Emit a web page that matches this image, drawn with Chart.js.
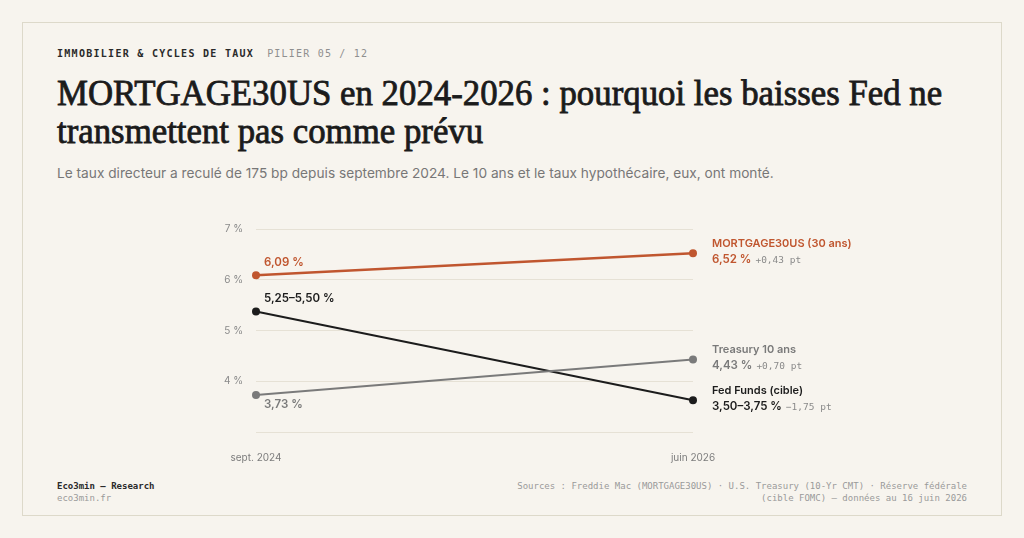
<!DOCTYPE html>
<html lang="fr">
<head>
<meta charset="utf-8">
<title>MORTGAGE30US en 2024-2026</title>
<script src="https://cdn.jsdelivr.net/npm/chart.js@4.4.1/dist/chart.umd.min.js"></script>
<style>
  html, body { margin: 0; padding: 0; background: #f7f4ee; }
  body { width: 1024px; height: 538px; position: relative; overflow: hidden; font-family: Inter, "Noto Sans", sans-serif; }
  .card { position: absolute; left: 22px; top: 22px; width: 980px; height: 494px; border: 1px solid #ddd9ca; box-sizing: border-box; }
  .kicker { position: absolute; left: 57px; top: 48px; font-family: "DejaVu Sans Mono", monospace; font-size: 10px; letter-spacing: 1.28px; font-weight: bold; color: #2a2a2a; white-space: nowrap; }
  .kicker span { color: #8f8f8f; font-weight: normal; margin-left: 13px; letter-spacing: 1.2px; }
  h1 { position: absolute; left: 57px; top: 75px; margin: 0; font-family: "Liberation Serif", serif; font-weight: normal; font-size: 34.8px; line-height: 38px; color: #1b1b1b; white-space: nowrap; -webkit-text-stroke: 0.8px #1b1b1b; }
  .sub { position: absolute; left: 57px; top: 165px; font-size: 13.7px; color: #777; white-space: nowrap; }
  #wrap { position: absolute; left: 200px; top: 210px; width: 700px; height: 260px; }
  .lbl { position: absolute; white-space: nowrap; font-size: 11px; font-weight: 600; line-height: 16px; }
  .lbl .d { font-family: "DejaVu Sans Mono", monospace; font-size: 9.5px; font-weight: normal; color: #8a8a8a; margin-left: 4px; }
  .foot { position: absolute; font-family: "DejaVu Sans Mono", monospace; font-size: 9px; line-height: 12px; color: #9a9a9a; white-space: nowrap; }
  .foot b { color: #2a2a2a; }
</style>
</head>
<body>
<div class="card"></div>
<div class="kicker">IMMOBILIER &amp; CYCLES DE TAUX<span>PILIER 05 / 12</span></div>
<h1>MORTGAGE30US en 2024-2026 : pourquoi les baisses Fed ne<br>transmettent pas comme prévu</h1>
<div class="sub">Le taux directeur a reculé de 175 bp depuis septembre 2024. Le 10 ans et le taux hypothécaire, eux, ont monté.</div>
<div id="wrap"><canvas id="chart"></canvas></div>
<div class="foot" style="left:57px; top:480px;"><b>Eco3min — Research</b><br>eco3min.fr</div>
<div class="foot" style="right:57px; top:480px; text-align:right;">Sources : Freddie Mac (MORTGAGE30US) · U.S. Treasury (10-Yr CMT) · Réserve fédérale<br>(cible FOMC) — données au 16 juin 2026</div>

<script>
// Periods and series (percent)
const periods = ["sept. 2024", "juin 2026"];
const mortgage = [6.09, 6.52];
const treasury = [3.73, 4.43];
const fedFunds = [5.375, 3.625]; // midpoint of the target range
const fedRange = ["5,25–5,50 %", "3,50–3,75 %"];
const seriesNames = ["MORTGAGE30US (30 ans)", "Treasury 10 ans", "Fed Funds (cible)"];
const seriesColors = ["#c0562f", "#7a7a7a", "#1c1c1c"];
const yMin = 3;
const yMax = 7;

const fmt = (v) => v.toFixed(2).replace(".", ",") + " %";
const fmtDelta = (d) => (d >= 0 ? "+" : "−") + Math.abs(d).toFixed(2).replace(".", ",") + " pt";

const series = [
  { name: seriesNames[0], data: mortgage, color: seriesColors[0], width: 2.5, text: mortgage.map(fmt), nameColor: seriesColors[0], below: false },
  { name: seriesNames[1], data: treasury, color: seriesColors[1], width: 2, text: treasury.map(fmt), nameColor: "#7a7a7a", below: true },
  { name: seriesNames[2], data: fedFunds, color: seriesColors[2], width: 2, text: fedRange, nameColor: "#1c1c1c", below: false },
];

// HTML labels placed from the chart scales
const labelPlugin = {
  id: "htmlLabels",
  afterRender(chart) {
    const wrap = document.getElementById("wrap");
    wrap.querySelectorAll(".lbl").forEach((n) => n.remove());
    const x = chart.scales.x;
    const y = chart.scales.y;
    series.forEach((s) => {
      const x0 = x.getPixelForValue(0);
      const y0 = y.getPixelForValue(s.data[0]);
      const start = document.createElement("div");
      start.className = "lbl";
      start.style.color = s.color;
      start.style.fontSize = "11.5px";
      start.style.left = x0 + 8 + "px";
      start.style.top = (s.below ? y0 + 1 : y0 - 21) + "px";
      start.textContent = s.text[0];
      wrap.appendChild(start);

      const last = s.data.length - 1;
      const x1 = x.getPixelForValue(last);
      const y1 = y.getPixelForValue(s.data[last]);
      const end = document.createElement("div");
      end.className = "lbl";
      end.style.left = x1 + 19 + "px";
      end.style.top = y1 - 18 + "px";
      end.innerHTML =
        '<div style="color:' + s.nameColor + '">' + s.name + "</div>" +
        '<div style="color:' + s.nameColor + ';font-size:11.5px">' + s.text[last] +
        '<span class="d">' + fmtDelta(s.data[last] - s.data[0]) + "</span></div>";
      wrap.appendChild(end);
    });
  },
};

new Chart(document.getElementById("chart"), {
  type: "line",
  data: {
    labels: periods,
    datasets: series.map((s) => ({
      label: s.name,
      data: s.data,
      borderColor: s.color,
      backgroundColor: s.color,
      borderWidth: s.width,
      pointRadius: 4,
      pointHoverRadius: 4,
      pointBorderWidth: 0,
      tension: 0,
      clip: false,
    })),
  },
  options: {
    responsive: true,
    maintainAspectRatio: false,
    animation: false,
    layout: { padding: { left: 0, right: 207, top: 19, bottom: 0 } },
    plugins: { legend: { display: false }, tooltip: { enabled: false } },
    scales: {
      x: {
        offset: false,
        grid: { display: false },
        border: { display: false },
        ticks: { color: "#7d7d7d", font: { family: "Inter", size: 10 }, padding: 12, maxRotation: 0 },
        afterFit: (s) => { s.height = 38; },
      },
      y: {
        min: yMin,
        max: yMax,
        grid: { color: "#e6e1d5", drawTicks: false },
        border: { display: false },
        ticks: {
          stepSize: 1,
          color: "#8a8a8a",
          font: { family: "Inter", size: 10 },
          padding: 13,
          callback: (v) => (v === yMin ? "" : v + " %"),
        },
        afterFit: (s) => { s.width = 56; },
      },
    },
  },
  plugins: [labelPlugin],
});
</script>
</body>
</html>
